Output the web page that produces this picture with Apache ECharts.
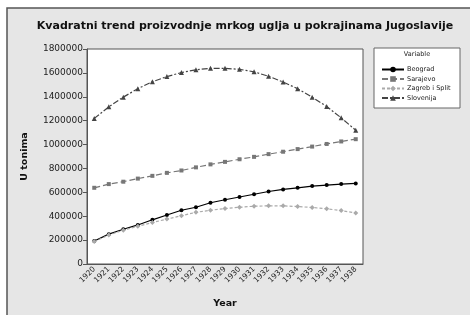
<!DOCTYPE html>
<html><head><meta charset="utf-8">
<script src="https://cdn.jsdelivr.net/npm/echarts@6/dist/echarts.min.js"></script>
<style>html,body{margin:0;padding:0;background:#fff}#c{width:470px;height:315px}</style>
</head><body><div id="c"></div>
<script>
const years = ['1920','1921','1922','1923','1924','1925','1926','1927','1928','1929','1930','1931','1932','1933','1934','1935','1936','1937','1938'];
const beograd = [193000,250000,291000,327000,370000,410000,450000,475000,513000,538000,561000,584000,607000,624000,638000,652000,661000,669000,675000];
const sarajevo = [638000,669000,689000,715000,738000,763000,783000,809000,834000,855000,877000,897000,920000,940000,962000,983000,1005000,1026000,1045000];
const zagreb = [188000,243000,283000,316000,347000,376000,404000,433000,450000,464000,475000,484000,487000,487000,481000,473000,462000,447000,427000];
const slovenija = [1219000,1316000,1397000,1468000,1526000,1569000,1603000,1626000,1638000,1638000,1630000,1609000,1572000,1523000,1468000,1397000,1319000,1224000,1120000];
const yTicks = [0,200000,400000,600000,800000,1000000,1200000,1400000,1600000,1800000];

const chart = echarts.init(document.getElementById('c'));
const font = 'DejaVu Sans';
function ser(name, data, color, type, symbol, size){
  return {name, type:'line', data, symbol, symbolSize:size, showSymbol:true,
    itemStyle:{color:color}, lineStyle:{color:color,width:1.2,type:type}, animation:false};
}
chart.setOption({
  animation:false,
  textStyle:{fontFamily:font},
  graphic:[
    {type:'rect', shape:{x:7,y:8,width:470,height:320}, style:{fill:'#e6e6e6',stroke:'#555',lineWidth:1.5}, z:-10},
    {type:'rect', shape:{x:374,y:48,width:86,height:60}, style:{fill:'#fff',stroke:'#666',lineWidth:1}, z:1},
    {type:'text', x:417, y:51, style:{text:'Variable', fontSize:6.5, fontFamily:font, fill:'#222', textAlign:'center'}, z:2}
  ],
  title:{text:'Kvadratni trend proizvodnje mrkog uglja u pokrajinama Jugoslavije', left:240, textAlign:'center', top:16,
    textStyle:{fontSize:11, fontWeight:'bold', color:'#111', fontFamily:font}},
  legend:{orient:'vertical', left:376, top:61, itemGap:2.5, itemWidth:22, itemHeight:7,
    textStyle:{fontSize:6.5, color:'#222', fontFamily:font, padding:[0,0,0,-2]},
    data:['Beograd','Sarajevo','Zagreb i Split','Slovenija'], z:3},
  grid:{left:87, top:49, right:107, bottom:51, show:true, backgroundColor:'#fff', borderColor:'#555', borderWidth:1},
  xAxis:{type:'category', data:years, boundaryGap:true, name:'Year', nameLocation:'middle', nameGap:35,
    nameTextStyle:{fontSize:9.5, fontWeight:'bold', color:'#111'},
    axisLine:{lineStyle:{color:'#555'}}, axisTick:{alignWithLabel:true, length:4, lineStyle:{color:'#555'}},
    axisLabel:{rotate:45, fontSize:7.5, color:'#222', margin:4, interval:0}},
  yAxis:{type:'value', min:0, max:1800000, interval:200000, name:'U tonima', nameLocation:'middle', nameGap:57,
    nameTextStyle:{fontSize:9.5, fontWeight:'bold', color:'#111'},
    axisLine:{show:true, lineStyle:{color:'#555'}}, axisTick:{show:true, length:4, lineStyle:{color:'#555'}},
    splitLine:{show:false},
    axisLabel:{fontSize:9, color:'#222', margin:4, formatter:v=>yTicks.includes(v)?String(v):''}},
  series:[
    ser('Beograd', beograd, '#000', 'solid', 'circle', 4),
    ser('Sarajevo', sarajevo, '#777', [6,3], 'rect', 4),
    ser('Zagreb i Split', zagreb, '#aaa', [3,2], 'diamond', 5),
    ser('Slovenija', slovenija, '#444', [6,2,2,2], 'triangle', 5)
  ]
});
</script></body></html>
